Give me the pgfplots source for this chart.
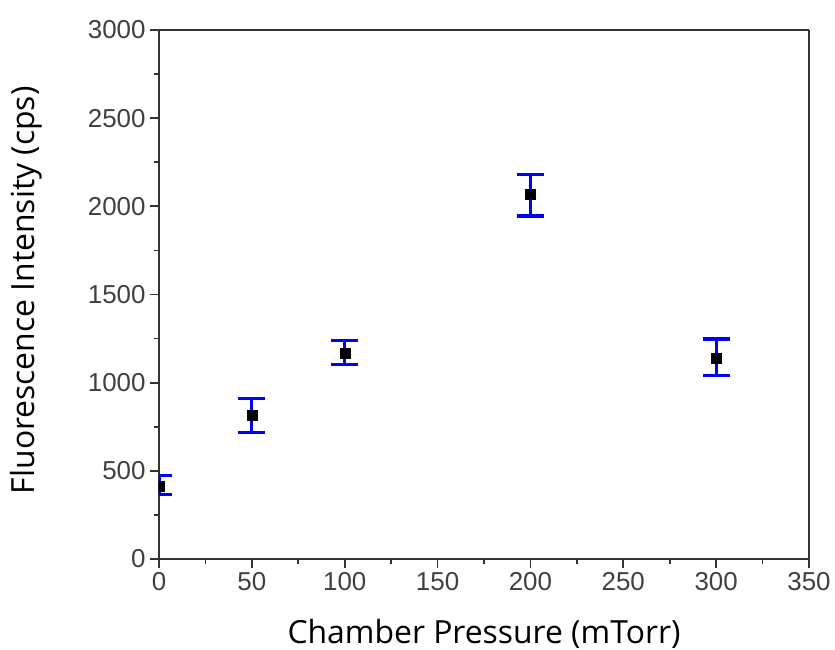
\documentclass[border=0pt]{standalone}
\usepackage{fontspec}
\setmainfont{Liberation Sans}
\newfontfamily\labelfont{Open Sans}
\usepackage{pgfplots}
\pgfplotsset{compat=1.18}
\definecolor{axgray}{HTML}{333333}
\definecolor{tickgray}{HTML}{404040}
\begin{document}
\begin{tikzpicture}
\begin{axis}[
  at={(0,0)}, anchor=south west,
  scale only axis, width=650bp, height=529bp,
  xmin=0, xmax=350, ymin=0, ymax=3000,
  xtick={0,50,...,350}, ytick={0,500,...,3000},
  minor x tick num=1, minor y tick num=1,
  tick pos=left, tick align=outside,
  major tick length=9bp, minor tick length=5bp,
  separate axis lines,
  every outer x axis line/.append style={axgray, line width=2.3bp},
  every outer y axis line/.append style={axgray, line width=2.3bp},
  major tick style={axgray, line width=1.8bp},
  minor tick style={axgray, line width=1.6bp},
  tick label style={font=\fontsize{26}{30}\selectfont, text=tickgray},
  /pgf/number format/assume math mode=true,
  /pgf/number format/1000 sep={},
  xticklabel style={yshift=-1bp},
  yticklabel style={xshift=-1bp},
  xlabel={Chamber Pressure (mTorr)},
  ylabel={Fluorescence Intensity (cps)},
  label style={font=\labelfont\fontsize{32}{36}\selectfont, text=black},
  xlabel style={at={(axis description cs:0.5,0)}, anchor=base, yshift=-84bp},
  ylabel style={at={(axis description cs:-0.2046,0.508)}, anchor=center, rotate=0},
  clip marker paths=true,
]
\addplot[only marks, mark=none, draw=blue, line width=3.2bp,
  error bars/.cd, y dir=both, y explicit,
  error bar style={line width=3.2bp, blue},
  error mark options={rotate=90, mark size=13.5bp, line width=3.2bp, blue}]
  coordinates {
  (0,415) += (0,57) -= (0,51)
  (50,814) += (0,97) -= (0,96)
  (100,1169) += (0,68) -= (0,67)
  (200,2068) += (0,114) -= (0,123)
  (300,1140) += (0,108) -= (0,99)
  };
\addplot[only marks, mark=square*, mark size=5bp, black] coordinates {
  (0,415) (50,814) (100,1169) (200,2068) (300,1140)
};
\end{axis}
\pgfresetboundingbox
\path[use as bounding box] (-159bp,-91bp) rectangle (676bp,559bp);
\end{tikzpicture}
\end{document}
